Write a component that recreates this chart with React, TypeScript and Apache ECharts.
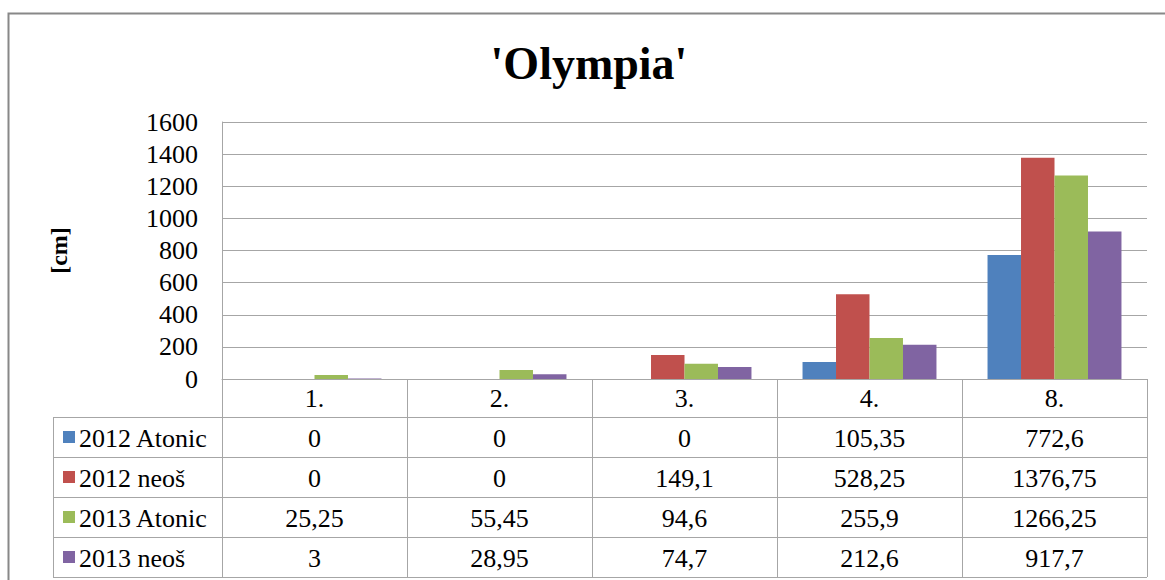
import React, { useEffect, useRef } from "react";
import * as echarts from "echarts";

const categories = ["1.", "2.", "3.", "4.", "8."];
const seriesNames = ["2012 Atonic", "2012 neoš", "2013 Atonic", "2013 neoš"];
const atonic2012 = [0, 0, 0, 105.35, 772.6];
const neos2012 = [0, 0, 149.1, 528.25, 1376.75];
const atonic2013 = [25.25, 55.45, 94.6, 255.9, 1266.25];
const neos2013 = [3, 28.95, 74.7, 212.6, 917.7];
const yMin = 0;
const yMax = 1600;
const yStep = 200;
const colors = ["#4F81BD", "#C0504D", "#9BBB59", "#8064A2"];

const FONT = "Liberation Serif";
const GRID = "#A6A6A6";

const fmt = (v: number) => String(v).replace(".", ",");

export default function App() {
  const ref = useRef<HTMLDivElement>(null);

  useEffect(() => {
    if (!ref.current) return;
    const chart = echarts.init(ref.current, undefined, { renderer: "svg" });
    const allSeries = [atonic2012, neos2012, atonic2013, neos2013];

    const gridLeft = 222;
    const gridTop = 122;
    const gridWidth = 925;
    const gridHeight = 257;

    chart.setOption({
      animation: false,
      backgroundColor: "#ffffff",
      textStyle: { fontFamily: FONT },
      grid: { left: gridLeft, top: gridTop, width: gridWidth, height: gridHeight, containLabel: false },
      xAxis: {
        type: "category",
        data: categories,
        axisLine: { show: true, lineStyle: { color: GRID, width: 1 } },
        axisTick: { show: true, length: 38, lineStyle: { color: GRID, width: 1 } },
        axisLabel: { fontFamily: FONT, fontSize: 26, color: "#000", margin: 6 },
      },
      yAxis: {
        type: "value",
        min: yMin,
        max: yMax,
        interval: yStep,
        name: "[cm]",
        nameLocation: "middle",
        nameRotate: 90,
        nameGap: 151,
        nameTextStyle: { fontFamily: FONT, fontSize: 24, fontWeight: "bold", color: "#000" },
        axisLine: { show: true, lineStyle: { color: GRID, width: 1 } },
        axisTick: { show: false },
        splitLine: { show: true, lineStyle: { color: GRID, width: 1 } },
        axisLabel: {
          fontFamily: FONT,
          fontSize: 26,
          color: "#000",
          margin: 24,
          formatter: (v: number) => String(v),
        },
      },
      series: allSeries.map((d, i) => ({
        type: "bar",
        name: seriesNames[i],
        data: d,
        barGap: "0%",
        barCategoryGap: "27.6%",
        itemStyle: { color: colors[i] },
      })),
    });

    const centers = categories.map((_, i) => chart.convertToPixel({ xAxisIndex: 0 }, i) as number);
    const band = centers.length > 1 ? centers[1] - centers[0] : gridWidth;
    const axisY = chart.convertToPixel({ yAxisIndex: 0 }, 0) as number;
    const headerBottom = axisY + 38;
    const rowH = 40;
    const tableLeft = 53;
    const tableRight = centers[centers.length - 1] + band / 2;
    const tableBottom = headerBottom + rowH * seriesNames.length;

    const graphic: any[] = [];
    const lineStyle = { stroke: GRID, lineWidth: 1 };
    for (let r = 0; r <= seriesNames.length; r++) {
      const y = Math.round(headerBottom + r * rowH) + 0.5;
      graphic.push({ type: "line", shape: { x1: tableLeft, y1: y, x2: tableRight, y2: y }, style: lineStyle });
    }
    graphic.push({ type: "line", shape: { x1: tableLeft + 0.5, y1: headerBottom, x2: tableLeft + 0.5, y2: tableBottom }, style: lineStyle });
    const bounds = [centers[0] - band / 2, ...centers.map((c) => c + band / 2)];
    bounds.forEach((b) => {
      const x = Math.round(b) + 0.5;
      graphic.push({ type: "line", shape: { x1: x, y1: axisY, x2: x, y2: tableBottom }, style: lineStyle });
    });
    seriesNames.forEach((name, r) => {
      const mid = headerBottom + r * rowH + rowH / 2;
      graphic.push({ type: "rect", shape: { x: 63, y: mid - 6, width: 12, height: 12 }, style: { fill: colors[r] } });
      graphic.push({
        type: "text",
        x: 79,
        y: mid + 1,
        style: { text: name, fontFamily: FONT, fontSize: 26, fill: "#000", align: "left", verticalAlign: "middle" },
      });
      allSeries[r].forEach((v, c) => {
        graphic.push({
          type: "text",
          x: centers[c],
          y: mid + 1,
          style: { text: fmt(v), fontFamily: FONT, fontSize: 26, fill: "#000", align: "center", verticalAlign: "middle" },
        });
      });
    });
    graphic.push({
      type: "text",
      x: 589,
      y: 63,
      style: { text: "'Olympia'", fontFamily: FONT, fontSize: 46, fontWeight: "bold", fill: "#000", align: "center", verticalAlign: "middle" },
    });
    graphic.push({
      type: "rect",
      shape: { x: 8.5, y: 13.5, width: 1170, height: 600 },
      style: { fill: "none", stroke: "#888888", lineWidth: 2 },
    });

    chart.setOption({ graphic });

    return () => chart.dispose();
  }, []);

  return <div ref={ref} style={{ position: "absolute", left: 0, top: 0, width: 1165, height: 580 }} />;
}
